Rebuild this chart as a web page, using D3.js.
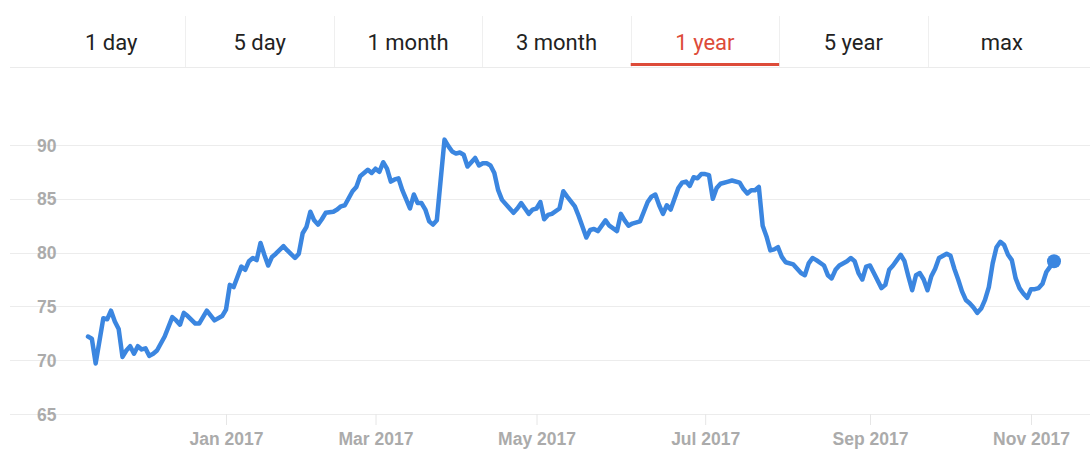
<!DOCTYPE html>
<html>
<head>
<meta charset="utf-8">
<script src="https://cdn.jsdelivr.net/npm/d3@7"></script>
<style>
body { margin: 0; background: #fff; }
</style>
</head>
<body>
<div id="container"></div>
<script>
var tabNames = ['1 day', '5 day', '1 month', '3 month', '1 year', '5 year', 'max'];
var activeTab = '1 year';

// trading day index since start of range, and closing price
var dayIndex = [
    0, 1, 2, 4, 5, 6, 7, 8, 9, 10, 11, 12, 13, 14, 15, 16, 17, 18, 20, 22,
    23, 24, 25, 26, 28, 29, 31, 33, 35, 36, 37, 38, 40, 41, 42, 43, 44, 45, 46, 47,
    48, 49, 51, 52, 54, 55, 56, 57, 58, 59, 60, 61, 62, 64, 65, 66, 67, 69, 70, 71,
    73, 74, 75, 76, 77, 78, 79, 80, 81, 82, 84, 85, 86, 87, 88, 89, 90, 91, 93, 94,
    95, 96, 97, 98, 99, 100, 101, 102, 103, 104, 105, 106, 107, 108, 110, 111, 112, 113, 114, 115,
    116, 117, 118, 119, 120, 121, 123, 124, 125, 127, 128, 129, 130, 131, 132, 133, 135, 136, 138, 139,
    140, 141, 142, 144, 145, 146, 147, 148, 149, 150, 151, 152, 154, 155, 156, 157, 158, 159, 160, 161,
    162, 163, 164, 165, 167, 168, 170, 171, 172, 173, 174, 175, 176, 177, 178, 179, 180, 181, 182, 184,
    185, 186, 187, 188, 189, 190, 192, 193, 194, 195, 196, 198, 199, 200, 201, 202, 203, 204, 205, 207,
    208, 209, 210, 211, 212, 213, 214, 215, 216, 217, 218, 219, 220, 221, 222, 224, 225, 226, 227, 228,
    229, 230, 231, 232, 233, 234, 235, 236, 237, 238, 239, 240, 241, 242, 243, 244, 245, 246, 247, 248,
    249, 250, 251, 252
];
var price = [
    72.2, 72.0, 69.7, 73.9, 73.8, 74.6, 73.6, 72.9, 70.3, 70.9, 71.3, 70.6, 71.3, 71.0, 71.1, 70.4, 70.6, 70.9, 72.2, 74.0,
    73.7, 73.3, 74.4, 74.1, 73.4, 73.4, 74.6, 73.7, 74.1, 74.7, 77.0, 76.8, 78.7, 78.4, 79.2, 79.5, 79.3, 80.9, 79.8, 78.8,
    79.6, 79.9, 80.6, 80.2, 79.5, 79.9, 81.8, 82.4, 83.8, 83.0, 82.6, 83.1, 83.7, 83.8, 84.0, 84.3, 84.4, 85.7, 86.1, 87.1,
    87.7, 87.4, 87.8, 87.5, 88.4, 87.8, 86.6, 86.8, 86.9, 85.8, 84.1, 85.4, 84.6, 84.6, 84.0, 82.9, 82.6, 83.0, 90.5, 89.9,
    89.4, 89.2, 89.3, 89.1, 88.0, 88.4, 88.8, 88.1, 88.3, 88.3, 88.1, 87.4, 85.8, 84.9, 84.1, 83.7, 84.1, 84.6, 84.1, 83.6,
    84.0, 84.1, 84.7, 83.1, 83.5, 83.6, 84.1, 85.7, 85.2, 84.3, 83.4, 82.4, 81.4, 82.1, 82.2, 82.0, 83.0, 82.5, 82.0, 83.6,
    83.0, 82.5, 82.7, 82.9, 83.8, 84.7, 85.2, 85.4, 84.4, 83.6, 84.4, 84.0, 86.0, 86.5, 86.6, 86.2, 87.0, 86.9, 87.3, 87.3,
    87.2, 85.0, 86.0, 86.4, 86.6, 86.7, 86.5, 85.9, 85.5, 85.8, 85.8, 86.1, 82.5, 81.5, 80.2, 80.3, 80.5, 79.6, 79.1, 78.9,
    78.5, 78.1, 77.9, 79.0, 79.5, 79.3, 78.8, 77.9, 77.6, 78.4, 78.8, 79.2, 79.5, 79.2, 78.1, 77.5, 78.7, 78.8, 78.1, 76.7,
    77.0, 78.4, 78.8, 79.3, 79.8, 79.2, 77.8, 76.5, 77.9, 78.1, 77.5, 76.5, 77.8, 78.5, 79.5, 79.9, 79.7, 78.5, 77.5, 76.4,
    75.6, 75.3, 74.9, 74.4, 74.8, 75.6, 76.8, 79.0, 80.5, 81.0, 80.7, 79.8, 79.3, 77.6, 76.7, 76.2, 75.8, 76.6, 76.6, 76.7,
    77.1, 78.2, 78.7, 79.2
];

var yTicks = [65, 70, 75, 80, 85, 90];
var xTickDays = [36, 75, 117, 161, 204, 246];
var xTickLabels = ['Jan 2017', 'Mar 2017', 'May 2017', 'Jul 2017', 'Sep 2017', 'Nov 2017'];

var width = 1090;
var height = 452;
var lineColor = '#3b86e0';
var labelColor = '#ababab';
var labelFont = 'Liberation Sans, Arial, sans-serif';
var gridLeft = 10;
var gridRight = 1090;

var svg = d3.select('#container').append('svg')
    .attr('width', width)
    .attr('height', height);

// ---- tab bar
var tabScale = d3.scaleBand().domain(tabNames).range([37, 1076]);

var tabs = svg.append('g');

tabs.append('line')
    .attr('x1', gridLeft)
    .attr('x2', gridRight)
    .attr('y1', 67.5)
    .attr('y2', 67.5)
    .attr('stroke', '#ebebeb')
    .attr('stroke-width', 1);

tabs.selectAll('line.divider')
    .data(tabNames.slice(1))
    .enter().append('line')
    .attr('class', 'divider')
    .attr('x1', function (d) { return Math.round(tabScale(d)) + 0.5; })
    .attr('x2', function (d) { return Math.round(tabScale(d)) + 0.5; })
    .attr('y1', 16)
    .attr('y2', 67)
    .attr('stroke', '#efefef');

tabs.selectAll('text')
    .data(tabNames)
    .enter().append('text')
    .attr('x', function (d) { return tabScale(d) + tabScale.bandwidth() / 2; })
    .attr('y', 50)
    .attr('text-anchor', 'middle')
    .attr('font-family', 'Roboto, sans-serif')
    .attr('font-size', 22)
    .attr('fill', function (d) { return d == activeTab ? '#dd4b39' : '#222'; })
    .text(function (d) { return d; });

tabs.append('rect')
    .attr('x', tabScale(activeTab))
    .attr('y', 63)
    .attr('width', tabScale.bandwidth())
    .attr('height', 3)
    .attr('fill', '#dd4b39');

// ---- chart
var x = d3.scaleLinear().domain([0, 252]).range([88, 1054]);
var y = d3.scaleLinear().domain([65, 90]).range([414, 145]);

var grid = svg.append('g');
grid.selectAll('line')
    .data(yTicks)
    .enter().append('line')
    .attr('x1', gridLeft)
    .attr('x2', gridRight)
    .attr('y1', function (d) { return Math.round(y(d)) + 0.5; })
    .attr('y2', function (d) { return Math.round(y(d)) + 0.5; })
    .attr('stroke', '#ececec');

grid.selectAll('text')
    .data(yTicks)
    .enter().append('text')
    .attr('x', 37)
    .attr('y', function (d) { return y(d) + 6.5; })
    .attr('font-family', labelFont)
    .attr('font-weight', 'bold')
    .attr('font-size', 17.5)
    .attr('fill', labelColor)
    .text(function (d) { return d; });

var xAxis = d3.axisBottom(x)
    .tickValues(xTickDays)
    .tickSize(11)
    .tickPadding(8)
    .tickFormat(function (d, i) { return xTickLabels[i]; });

var xg = svg.append('g')
    .attr('transform', 'translate(0,' + 414 + ')')
    .call(xAxis);
xg.select('.domain').remove();
xg.selectAll('.tick line').attr('stroke', '#e6e6e6');
xg.selectAll('.tick text')
    .attr('font-family', labelFont)
    .attr('font-weight', 'bold')
    .attr('font-size', 17.5)
    .attr('fill', labelColor);

var points = dayIndex.map(function (d, i) { return [d, price[i]]; });

var line = d3.line()
    .x(function (d) { return x(d[0]); })
    .y(function (d) { return y(d[1]); });

svg.append('path')
    .datum(points)
    .attr('d', line)
    .attr('fill', 'none')
    .attr('stroke', lineColor)
    .attr('stroke-width', 4.5)
    .attr('stroke-linejoin', 'round')
    .attr('stroke-linecap', 'round');

var last = points[points.length - 1];
svg.append('circle')
    .attr('cx', x(last[0]))
    .attr('cy', y(last[1]))
    .attr('r', 7)
    .attr('fill', lineColor);
</script>
</body>
</html>
